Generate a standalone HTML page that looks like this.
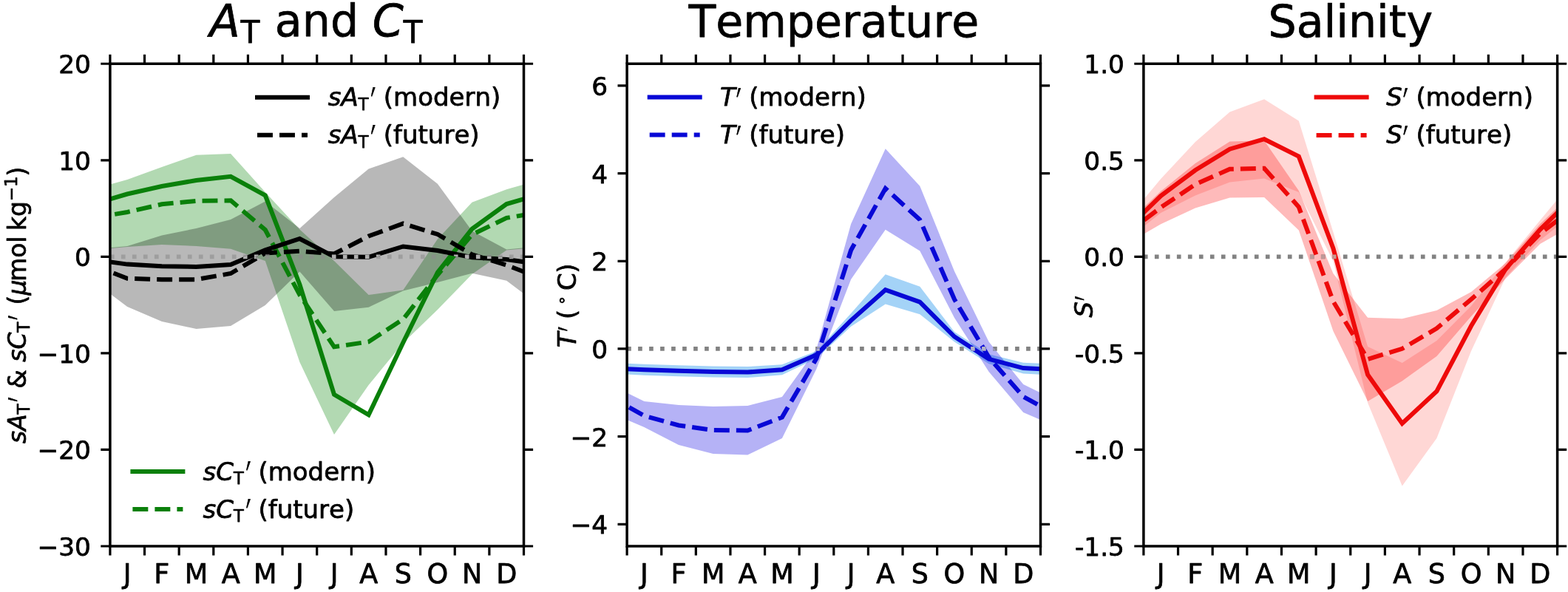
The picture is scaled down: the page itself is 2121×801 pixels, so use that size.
<!DOCTYPE html>
<html lang="en"><head><meta charset="utf-8"><title>Seasonal cycles</title>
<style>html,body{margin:0;padding:0;background:#fff}svg{display:block}</style></head>
<body>
<svg width="2121" height="801" viewBox="0 0 2121 801" font-family="'DejaVu Sans','Liberation Sans',sans-serif" fill="#000">
<style>text{stroke:#000;stroke-width:0.75px;stroke-linejoin:round;font-kerning:none}</style>
<rect width="2121" height="801" fill="#fff"/>
<defs>
<clipPath id="c0"><rect x="148.9" y="86.25" width="559.60" height="652.75"/></clipPath>
<clipPath id="c1"><rect x="848.1" y="86.25" width="559.40" height="652.75"/></clipPath>
<clipPath id="c2"><rect x="1546.9" y="86.25" width="559.70" height="652.75"/></clipPath>
</defs>
<mask id="mk" maskUnits="userSpaceOnUse" x="0" y="0" width="2121" height="801">
<path d="M125.6,351.0 L172.2,357.6 L218.9,360.3 L265.5,361.0 L312.1,358.0 L358.8,338.4 L405.4,323.0 L452.0,347.3 L498.6,347.8 L545.3,333.5 L591.9,339.0 L638.5,348.3 L685.2,351.0 L731.8,357.6" stroke="#fff" stroke-width="6.0" fill="none"/>
<path d="M125.6,358.6 L172.2,376.8 L218.9,378.2 L265.5,378.2 L312.1,370.0 L358.8,342.5 L405.4,339.7 L452.0,343.5 L498.6,319.5 L545.3,302.5 L591.9,317.0 L638.5,344.4 L685.2,358.6 L731.8,376.8" stroke="#fff" stroke-width="6.0" fill="none" stroke-dasharray="20.94 9.06"/>
</mask>
<g clip-path="url(#c0)">
<path d="M125.6,256.2 L172.2,243.0 L218.9,226.0 L265.5,209.8 L312.1,208.1 L358.8,260.0 L405.4,310.5 L452.0,353.0 L498.6,399.0 L545.3,392.4 L591.9,323.6 L638.5,273.7 L685.2,256.2 L731.8,243.0 L731.8,334.0 L685.2,338.5 L638.5,371.0 L591.9,419.0 L545.3,464.0 L498.6,521.1 L452.0,588.0 L405.4,490.0 L358.8,353.0 L312.1,336.7 L265.5,333.0 L218.9,331.0 L172.2,334.0 L125.6,338.5Z" fill="rgb(0,128,0)" fill-opacity="0.3"/>
<path d="M125.6,337.5 L172.2,333.0 L218.9,318.5 L265.5,309.0 L312.1,297.0 L358.8,272.4 L405.4,309.0 L452.0,267.0 L498.6,228.5 L545.3,212.3 L591.9,248.7 L638.5,312.4 L685.2,337.5 L731.8,333.0 L731.8,415.0 L685.2,379.8 L638.5,369.8 L591.9,382.0 L545.3,393.5 L498.6,415.7 L452.0,421.0 L405.4,367.5 L358.8,413.0 L312.1,441.0 L265.5,445.0 L218.9,435.0 L172.2,415.0 L125.6,379.8Z" fill="#000" fill-opacity="0.28"/>
<path d="M148.9,347.35 H708.5" stroke="#8c8c8c" stroke-width="5.7" stroke-dasharray="5.66 9.34" fill="none" stroke-opacity="0.6"/>
<path d="M125.6,276.0 L172.2,262.5 L218.9,252.0 L265.5,244.0 L312.1,238.8 L358.8,264.3 L405.4,385.0 L452.0,533.8 L498.6,561.3 L545.3,463.5 L591.9,368.6 L638.5,309.7 L685.2,276.0 L731.8,262.5" stroke="#0a800a" stroke-width="6.0" fill="none" stroke-linejoin="miter"/>
<path d="M125.6,294.9 L172.2,287.0 L218.9,276.3 L265.5,271.8 L312.1,271.3 L358.8,311.0 L405.4,399.0 L452.0,469.3 L498.6,462.4 L545.3,432.0 L591.9,372.0 L638.5,317.4 L685.2,294.9 L731.8,287.0" stroke="#0a800a" stroke-width="6.0" fill="none" stroke-dasharray="20.94 9.06" stroke-linejoin="miter"/>
<path d="M125.6,351.0 L172.2,357.6 L218.9,360.3 L265.5,361.0 L312.1,358.0 L358.8,338.4 L405.4,323.0 L452.0,347.3 L498.6,347.8 L545.3,333.5 L591.9,339.0 L638.5,348.3 L685.2,351.0 L731.8,357.6" stroke="#000" stroke-width="6.0" fill="none" stroke-linejoin="miter"/>
<path d="M125.6,358.6 L172.2,376.8 L218.9,378.2 L265.5,378.2 L312.1,370.0 L358.8,342.5 L405.4,339.7 L452.0,343.5 L498.6,319.5 L545.3,302.5 L591.9,317.0 L638.5,344.4 L685.2,358.6 L731.8,376.8" stroke="#000" stroke-width="6.0" fill="none" stroke-dasharray="20.94 9.06" stroke-linejoin="miter"/>
<g mask="url(#mk)"><path d="M148.9,347.35 H708.5" stroke="#b0b0b0" stroke-width="5.7" stroke-dasharray="5.66 9.34" fill="none"/></g>
</g>
<mask id="mk2" maskUnits="userSpaceOnUse" x="0" y="0" width="2121" height="801">
<path d="M824.8,498.1 L871.4,500.3 L918.0,501.7 L964.6,503.0 L1011.3,503.6 L1057.9,500.3 L1104.5,479.9 L1151.1,433.6 L1197.7,392.2 L1244.3,408.6 L1291.0,455.5 L1337.6,485.8 L1384.2,498.1 L1430.8,500.3" stroke="#fff" stroke-width="6.0" fill="none"/>
<path d="M824.8,536.6 L871.4,562.5 L918.0,575.5 L964.6,582.0 L1011.3,582.5 L1057.9,564.5 L1104.5,484.8 L1151.1,338.5 L1197.7,255.0 L1244.3,297.4 L1291.0,405.0 L1337.6,483.5 L1384.2,536.6 L1430.8,562.5" stroke="#fff" stroke-width="6.0" fill="none" stroke-dasharray="20.94 9.06"/>
</mask>
<clipPath id="cb2"><path d="M824.8,490.8 L871.4,492.8 L918.0,494.2 L964.6,495.5 L1011.3,496.1 L1057.9,493.3 L1104.5,474.9 L1151.1,424.0 L1197.7,371.3 L1244.3,387.8 L1291.0,449.0 L1337.6,479.3 L1384.2,490.8 L1430.8,492.8 L1430.8,507.8 L1384.2,505.4 L1337.6,492.3 L1291.0,462.4 L1244.3,425.3 L1197.7,411.6 L1151.1,441.8 L1104.5,484.9 L1057.9,507.3 L1011.3,511.1 L964.6,510.5 L918.0,509.2 L871.4,507.8 L824.8,505.4Z"/><path d="M824.8,520.0 L871.4,543.0 L918.0,548.0 L964.6,550.0 L1011.3,549.0 L1057.9,537.0 L1104.5,472.0 L1151.1,303.0 L1197.7,201.3 L1244.3,251.7 L1291.0,367.0 L1337.6,462.5 L1384.2,520.0 L1430.8,543.0 L1430.8,578.0 L1384.2,558.0 L1337.6,503.0 L1291.0,430.0 L1244.3,339.5 L1197.7,310.7 L1151.1,378.0 L1104.5,499.0 L1057.9,593.0 L1011.3,615.5 L964.6,614.0 L918.0,602.0 L871.4,578.0 L824.8,558.0Z"/></clipPath>
<g clip-path="url(#c1)">
<path d="M848.1,471.97 H1407.5" stroke="#828282" stroke-width="5.7" stroke-dasharray="5.66 9.34" fill="none"/>
<path d="M824.8,490.8 L871.4,492.8 L918.0,494.2 L964.6,495.5 L1011.3,496.1 L1057.9,493.3 L1104.5,474.9 L1151.1,424.0 L1197.7,371.3 L1244.3,387.8 L1291.0,449.0 L1337.6,479.3 L1384.2,490.8 L1430.8,492.8 L1430.8,507.8 L1384.2,505.4 L1337.6,492.3 L1291.0,462.4 L1244.3,425.3 L1197.7,411.6 L1151.1,441.8 L1104.5,484.9 L1057.9,507.3 L1011.3,511.1 L964.6,510.5 L918.0,509.2 L871.4,507.8 L824.8,505.4Z" fill="rgb(80,170,240)" fill-opacity="0.52"/>
<path d="M824.8,520.0 L871.4,543.0 L918.0,548.0 L964.6,550.0 L1011.3,549.0 L1057.9,537.0 L1104.5,472.0 L1151.1,303.0 L1197.7,201.3 L1244.3,251.7 L1291.0,367.0 L1337.6,462.5 L1384.2,520.0 L1430.8,543.0 L1430.8,578.0 L1384.2,558.0 L1337.6,503.0 L1291.0,430.0 L1244.3,339.5 L1197.7,310.7 L1151.1,378.0 L1104.5,499.0 L1057.9,593.0 L1011.3,615.5 L964.6,614.0 L918.0,602.0 L871.4,578.0 L824.8,558.0Z" fill="rgb(10,0,225)" fill-opacity="0.3"/>
<g clip-path="url(#cb2)"><path d="M848.1,471.97 H1407.5" stroke="#9d9cb4" stroke-width="5.7" stroke-dasharray="5.66 9.34" fill="none"/></g>
<path d="M824.8,498.1 L871.4,500.3 L918.0,501.7 L964.6,503.0 L1011.3,503.6 L1057.9,500.3 L1104.5,479.9 L1151.1,433.6 L1197.7,392.2 L1244.3,408.6 L1291.0,455.5 L1337.6,485.8 L1384.2,498.1 L1430.8,500.3" stroke="#0808d6" stroke-width="6.0" fill="none" stroke-linejoin="miter"/>
<path d="M824.8,536.6 L871.4,562.5 L918.0,575.5 L964.6,582.0 L1011.3,582.5 L1057.9,564.5 L1104.5,484.8 L1151.1,338.5 L1197.7,255.0 L1244.3,297.4 L1291.0,405.0 L1337.6,483.5 L1384.2,536.6 L1430.8,562.5" stroke="#0808d6" stroke-width="6.0" fill="none" stroke-dasharray="20.94 9.06" stroke-linejoin="miter"/>
<g mask="url(#mk2)"><path d="M848.1,471.97 H1407.5" stroke="#b4b4c6" stroke-width="5.7" stroke-dasharray="5.66 9.34" fill="none"/></g>
</g>
<mask id="mk3" maskUnits="userSpaceOnUse" x="0" y="0" width="2121" height="801">
<path d="M1523.6,310.5 L1570.2,265.0 L1616.9,230.3 L1663.5,201.7 L1710.1,188.2 L1756.8,211.6 L1803.4,336.0 L1850.1,507.0 L1896.7,573.0 L1943.4,529.4 L1990.0,441.0 L2036.6,364.0 L2083.3,310.5 L2129.9,265.0" stroke="#fff" stroke-width="6.0" fill="none"/>
<path d="M1523.6,316.0 L1570.2,280.7 L1616.9,249.4 L1663.5,228.8 L1710.1,227.8 L1756.8,280.0 L1803.4,407.8 L1850.1,486.0 L1896.7,471.8 L1943.4,444.3 L1990.0,405.0 L2036.6,364.0 L2083.3,316.0 L2129.9,280.7" stroke="#fff" stroke-width="6.0" fill="none" stroke-dasharray="20.94 9.06"/>
</mask>
<clipPath id="cb3"><path d="M1523.6,298.0 L1570.2,242.0 L1616.9,192.0 L1663.5,151.5 L1710.1,134.3 L1756.8,163.6 L1803.4,314.0 L1850.1,469.0 L1896.7,491.0 L1943.4,461.0 L1990.0,414.0 L2036.6,355.0 L2083.3,298.0 L2129.9,242.0 L2129.9,288.0 L2083.3,325.0 L2036.6,375.5 L1990.0,475.0 L1943.4,593.0 L1896.7,657.5 L1850.1,545.0 L1803.4,353.5 L1756.8,260.0 L1710.1,241.5 L1663.5,246.5 L1616.9,264.5 L1570.2,288.0 L1523.6,325.0Z"/><path d="M1523.6,303.0 L1570.2,258.8 L1616.9,221.0 L1663.5,191.6 L1710.1,190.2 L1756.8,258.0 L1803.4,370.0 L1850.1,429.8 L1896.7,431.3 L1943.4,420.0 L1990.0,395.0 L2036.6,356.0 L2083.3,303.0 L2129.9,258.8 L2129.9,303.3 L2083.3,330.0 L2036.6,377.0 L1990.0,428.0 L1943.4,482.0 L1896.7,515.4 L1850.1,543.0 L1803.4,448.0 L1756.8,311.5 L1710.1,267.0 L1663.5,267.4 L1616.9,281.4 L1570.2,303.3 L1523.6,330.0Z"/></clipPath>
<g clip-path="url(#c2)">
<path d="M1546.9,347.35 H2106.6" stroke="#828282" stroke-width="5.7" stroke-dasharray="5.66 9.34" fill="none"/>
<path d="M1523.6,298.0 L1570.2,242.0 L1616.9,192.0 L1663.5,151.5 L1710.1,134.3 L1756.8,163.6 L1803.4,314.0 L1850.1,469.0 L1896.7,491.0 L1943.4,461.0 L1990.0,414.0 L2036.6,355.0 L2083.3,298.0 L2129.9,242.0 L2129.9,288.0 L2083.3,325.0 L2036.6,375.5 L1990.0,475.0 L1943.4,593.0 L1896.7,657.5 L1850.1,545.0 L1803.4,353.5 L1756.8,260.0 L1710.1,241.5 L1663.5,246.5 L1616.9,264.5 L1570.2,288.0 L1523.6,325.0Z" fill="rgb(255,10,0)" fill-opacity="0.165"/>
<path d="M1523.6,303.0 L1570.2,258.8 L1616.9,221.0 L1663.5,191.6 L1710.1,190.2 L1756.8,258.0 L1803.4,370.0 L1850.1,429.8 L1896.7,431.3 L1943.4,420.0 L1990.0,395.0 L2036.6,356.0 L2083.3,303.0 L2129.9,258.8 L2129.9,303.3 L2083.3,330.0 L2036.6,377.0 L1990.0,428.0 L1943.4,482.0 L1896.7,515.4 L1850.1,543.0 L1803.4,448.0 L1756.8,311.5 L1710.1,267.0 L1663.5,267.4 L1616.9,281.4 L1570.2,303.3 L1523.6,330.0Z" fill="rgb(250,0,0)" fill-opacity="0.27"/>
<g clip-path="url(#cb3)"><path d="M1546.9,347.35 H2106.6" stroke="#bd9898" stroke-width="5.7" stroke-dasharray="5.66 9.34" fill="none"/></g>
<path d="M1523.6,310.5 L1570.2,265.0 L1616.9,230.3 L1663.5,201.7 L1710.1,188.2 L1756.8,211.6 L1803.4,336.0 L1850.1,507.0 L1896.7,573.0 L1943.4,529.4 L1990.0,441.0 L2036.6,364.0 L2083.3,310.5 L2129.9,265.0" stroke="#ee0a0a" stroke-width="6.0" fill="none" stroke-linejoin="miter"/>
<path d="M1523.6,316.0 L1570.2,280.7 L1616.9,249.4 L1663.5,228.8 L1710.1,227.8 L1756.8,280.0 L1803.4,407.8 L1850.1,486.0 L1896.7,471.8 L1943.4,444.3 L1990.0,405.0 L2036.6,364.0 L2083.3,316.0 L2129.9,280.7" stroke="#ee0a0a" stroke-width="6.0" fill="none" stroke-dasharray="20.94 9.06" stroke-linejoin="miter"/>
<g mask="url(#mk3)"><path d="M1546.9,347.35 H2106.6" stroke="#c89a90" stroke-width="5.7" stroke-dasharray="5.66 9.34" fill="none"/></g>
</g>
<path d="M148.90,739.0 v12.6 M148.90,86.25 v-12.6 M195.53,739.0 v12.6 M195.53,86.25 v-12.6 M242.17,739.0 v12.6 M242.17,86.25 v-12.6 M288.80,739.0 v12.6 M288.80,86.25 v-12.6 M335.43,739.0 v12.6 M335.43,86.25 v-12.6 M382.07,739.0 v12.6 M382.07,86.25 v-12.6 M428.70,739.0 v12.6 M428.70,86.25 v-12.6 M475.33,739.0 v12.6 M475.33,86.25 v-12.6 M521.97,739.0 v12.6 M521.97,86.25 v-12.6 M568.60,739.0 v12.6 M568.60,86.25 v-12.6 M615.23,739.0 v12.6 M615.23,86.25 v-12.6 M661.87,739.0 v12.6 M661.87,86.25 v-12.6 M708.50,739.0 v12.6 M708.50,86.25 v-12.6 M148.9,86.25 h-12.6 M708.5,86.25 h12.6 M148.9,216.80 h-12.6 M708.5,216.80 h12.6 M148.9,347.35 h-12.6 M708.5,347.35 h12.6 M148.9,477.90 h-12.6 M708.5,477.90 h12.6 M148.9,608.45 h-12.6 M708.5,608.45 h12.6 M148.9,739.00 h-12.6 M708.5,739.00 h12.6" stroke="#000" stroke-width="3.2" fill="none"/>
<rect x="148.9" y="86.25" width="559.60" height="652.75" fill="none" stroke="#000" stroke-width="3.5"/>
<g font-size="36.5" text-anchor="middle">
<text x="172.22" y="789.1">J</text>
<text x="218.85" y="789.1">F</text>
<text x="265.48" y="789.1">M</text>
<text x="312.12" y="789.1">A</text>
<text x="358.75" y="789.1">M</text>
<text x="405.38" y="789.1">J</text>
<text x="452.02" y="789.1">J</text>
<text x="498.65" y="789.1">A</text>
<text x="545.28" y="789.1">S</text>
<text x="591.92" y="789.1">O</text>
<text x="638.55" y="789.1">N</text>
<text x="685.18" y="789.1">D</text>
</g>
<g font-size="34.3" text-anchor="end">
<text x="122.90" y="99.25">20</text>
<text x="122.90" y="229.80">10</text>
<text x="122.90" y="360.35">0</text>
<text x="122.90" y="490.90">−10</text>
<text x="122.90" y="621.45">−20</text>
<text x="122.90" y="752.00">−30</text>
</g>
<path d="M848.10,739.0 v12.6 M848.10,86.25 v-12.6 M894.72,739.0 v12.6 M894.72,86.25 v-12.6 M941.33,739.0 v12.6 M941.33,86.25 v-12.6 M987.95,739.0 v12.6 M987.95,86.25 v-12.6 M1034.57,739.0 v12.6 M1034.57,86.25 v-12.6 M1081.18,739.0 v12.6 M1081.18,86.25 v-12.6 M1127.80,739.0 v12.6 M1127.80,86.25 v-12.6 M1174.42,739.0 v12.6 M1174.42,86.25 v-12.6 M1221.03,739.0 v12.6 M1221.03,86.25 v-12.6 M1267.65,739.0 v12.6 M1267.65,86.25 v-12.6 M1314.27,739.0 v12.6 M1314.27,86.25 v-12.6 M1360.88,739.0 v12.6 M1360.88,86.25 v-12.6 M1407.50,739.0 v12.6 M1407.50,86.25 v-12.6 M848.1,115.92 h-12.6 M1407.5,115.92 h12.6 M848.1,234.60 h-12.6 M1407.5,234.60 h12.6 M848.1,353.28 h-12.6 M1407.5,353.28 h12.6 M848.1,471.97 h-12.6 M1407.5,471.97 h12.6 M848.1,590.65 h-12.6 M1407.5,590.65 h12.6 M848.1,709.33 h-12.6 M1407.5,709.33 h12.6" stroke="#000" stroke-width="3.2" fill="none"/>
<rect x="848.1" y="86.25" width="559.40" height="652.75" fill="none" stroke="#000" stroke-width="3.5"/>
<g font-size="36.5" text-anchor="middle">
<text x="871.41" y="789.1">J</text>
<text x="918.02" y="789.1">F</text>
<text x="964.64" y="789.1">M</text>
<text x="1011.26" y="789.1">A</text>
<text x="1057.88" y="789.1">M</text>
<text x="1104.49" y="789.1">J</text>
<text x="1151.11" y="789.1">J</text>
<text x="1197.72" y="789.1">A</text>
<text x="1244.34" y="789.1">S</text>
<text x="1290.96" y="789.1">O</text>
<text x="1337.58" y="789.1">N</text>
<text x="1384.19" y="789.1">D</text>
</g>
<g font-size="34.3" text-anchor="end">
<text x="822.10" y="128.92">6</text>
<text x="822.10" y="247.60">4</text>
<text x="822.10" y="366.28">2</text>
<text x="822.10" y="484.97">0</text>
<text x="822.10" y="603.65">−2</text>
<text x="822.10" y="722.33">−4</text>
</g>
<path d="M1546.90,739.0 v12.6 M1546.90,86.25 v-12.6 M1593.54,739.0 v12.6 M1593.54,86.25 v-12.6 M1640.18,739.0 v12.6 M1640.18,86.25 v-12.6 M1686.83,739.0 v12.6 M1686.83,86.25 v-12.6 M1733.47,739.0 v12.6 M1733.47,86.25 v-12.6 M1780.11,739.0 v12.6 M1780.11,86.25 v-12.6 M1826.75,739.0 v12.6 M1826.75,86.25 v-12.6 M1873.39,739.0 v12.6 M1873.39,86.25 v-12.6 M1920.03,739.0 v12.6 M1920.03,86.25 v-12.6 M1966.67,739.0 v12.6 M1966.67,86.25 v-12.6 M2013.32,739.0 v12.6 M2013.32,86.25 v-12.6 M2059.96,739.0 v12.6 M2059.96,86.25 v-12.6 M2106.60,739.0 v12.6 M2106.60,86.25 v-12.6 M1546.9,86.25 h-12.6 M2106.6,86.25 h12.6 M1546.9,216.80 h-12.6 M2106.6,216.80 h12.6 M1546.9,347.35 h-12.6 M2106.6,347.35 h12.6 M1546.9,477.90 h-12.6 M2106.6,477.90 h12.6 M1546.9,608.45 h-12.6 M2106.6,608.45 h12.6 M1546.9,739.00 h-12.6 M2106.6,739.00 h12.6" stroke="#000" stroke-width="3.2" fill="none"/>
<rect x="1546.9" y="86.25" width="559.70" height="652.75" fill="none" stroke="#000" stroke-width="3.5"/>
<g font-size="36.5" text-anchor="middle">
<text x="1570.22" y="789.1">J</text>
<text x="1616.86" y="789.1">F</text>
<text x="1663.50" y="789.1">M</text>
<text x="1710.15" y="789.1">A</text>
<text x="1756.79" y="789.1">M</text>
<text x="1803.43" y="789.1">J</text>
<text x="1850.07" y="789.1">J</text>
<text x="1896.71" y="789.1">A</text>
<text x="1943.35" y="789.1">S</text>
<text x="1990.00" y="789.1">O</text>
<text x="2036.64" y="789.1">N</text>
<text x="2083.28" y="789.1">D</text>
</g>
<g font-size="34.3" text-anchor="end">
<text x="1520.90" y="99.25">1.0</text>
<text x="1520.90" y="229.80">0.5</text>
<text x="1520.90" y="360.35">0.0</text>
<text x="1520.90" y="490.90">-0.5</text>
<text x="1520.90" y="621.45">-1.0</text>
<text x="1520.90" y="752.00">-1.5</text>
</g>
<text font-size="60.2" xml:space="preserve"><tspan x="283.61" y="48.50" font-style="italic">A</tspan><tspan x="325.59" y="58.10" font-size="42.14">T</tspan><tspan x="352.73" y="48.50"> and </tspan><tspan x="503.63" y="48.50" font-style="italic">C</tspan><tspan x="545.66" y="58.10" font-size="42.14">T</tspan></text>
<text font-size="60.2" xml:space="preserve"><tspan x="931.39" y="50.20">Temperature</tspan></text>
<text font-size="60.2" xml:space="preserve"><tspan x="1715.44" y="50.20">Salinity</tspan></text>
<path d="M348.0,131.8 h68.0" stroke="#000" stroke-width="6.0" stroke-linecap="square" fill="none"/>
<text font-size="34.0" xml:space="preserve"><tspan x="443.80" y="143.40" font-style="italic">sA</tspan><tspan x="484.78" y="149.20" font-size="22.44">T</tspan></text>
<text transform="translate(501.40,164.50) scale(0.85,1.9)" font-size="34.00" style="stroke-width:0.45px" xml:space="preserve">′</text>
<text font-size="34.0" xml:space="preserve"><tspan x="507.94" y="143.40"> (modern)</tspan></text>
<path d="M348.0,182.8 h68.0" stroke="#000" stroke-width="6.0" stroke-dasharray="20.94 9.06" fill="none"/>
<text font-size="34.0" xml:space="preserve"><tspan x="443.80" y="194.40" font-style="italic">sA</tspan><tspan x="484.78" y="200.20" font-size="22.44">T</tspan></text>
<text transform="translate(501.40,215.50) scale(0.85,1.9)" font-size="34.00" style="stroke-width:0.45px" xml:space="preserve">′</text>
<text font-size="34.0" xml:space="preserve"><tspan x="507.94" y="194.40"> (future)</tspan></text>
<path d="M179.4,638.0 h68.0" stroke="#0a800a" stroke-width="6.0" stroke-linecap="square" fill="none"/>
<text font-size="34.0" xml:space="preserve"><tspan x="274.60" y="649.60" font-style="italic">sC</tspan><tspan x="316.07" y="655.40" font-size="22.44">T</tspan></text>
<text transform="translate(332.69,670.70) scale(0.85,1.9)" font-size="34.00" style="stroke-width:0.45px" xml:space="preserve">′</text>
<text font-size="34.0" xml:space="preserve"><tspan x="338.62" y="649.60"> (modern)</tspan></text>
<path d="M179.4,689.0 h68.0" stroke="#0a800a" stroke-width="6.0" stroke-dasharray="20.94 9.06" fill="none"/>
<text font-size="34.0" xml:space="preserve"><tspan x="274.60" y="700.60" font-style="italic">sC</tspan><tspan x="316.07" y="706.40" font-size="22.44">T</tspan></text>
<text transform="translate(332.69,721.70) scale(0.85,1.9)" font-size="34.00" style="stroke-width:0.45px" xml:space="preserve">′</text>
<text font-size="34.0" xml:space="preserve"><tspan x="338.62" y="700.60"> (future)</tspan></text>
<path d="M878.7,131.6 h68.0" stroke="#0808d6" stroke-width="6.0" stroke-linecap="square" fill="none"/>
<text font-size="34.0" xml:space="preserve"><tspan x="973.90" y="143.20" font-style="italic">T</tspan></text>
<text transform="translate(995.88,166.20) scale(0.85,1.9)" font-size="34.00" style="stroke-width:0.45px" xml:space="preserve">′</text>
<text font-size="34.0" xml:space="preserve"><tspan x="1002.42" y="143.20"> (modern)</tspan></text>
<path d="M878.7,182.6 h68.0" stroke="#0808d6" stroke-width="6.0" stroke-dasharray="20.94 9.06" fill="none"/>
<text font-size="34.0" xml:space="preserve"><tspan x="973.90" y="194.20" font-style="italic">T</tspan></text>
<text transform="translate(995.88,217.20) scale(0.85,1.9)" font-size="34.00" style="stroke-width:0.45px" xml:space="preserve">′</text>
<text font-size="34.0" xml:space="preserve"><tspan x="1002.42" y="194.20"> (future)</tspan></text>
<path d="M1780.6,131.6 h68.0" stroke="#ee0a0a" stroke-width="6.0" stroke-linecap="square" fill="none"/>
<text font-size="34.0" xml:space="preserve"><tspan x="1875.30" y="143.20" font-style="italic">S</tspan></text>
<text transform="translate(1898.09,166.20) scale(0.85,1.9)" font-size="34.00" style="stroke-width:0.45px" xml:space="preserve">′</text>
<text font-size="34.0" xml:space="preserve"><tspan x="1904.63" y="143.20"> (modern)</tspan></text>
<path d="M1780.6,183.0 h68.0" stroke="#ee0a0a" stroke-width="6.0" stroke-dasharray="20.94 9.06" fill="none"/>
<text font-size="34.0" xml:space="preserve"><tspan x="1875.30" y="194.20" font-style="italic">S</tspan></text>
<text transform="translate(1898.09,217.20) scale(0.85,1.9)" font-size="34.00" style="stroke-width:0.45px" xml:space="preserve">′</text>
<text font-size="34.0" xml:space="preserve"><tspan x="1904.63" y="194.20"> (future)</tspan></text>
<g transform="translate(34.80,412.80) rotate(-90)">
<text font-size="32.8" xml:space="preserve"><tspan x="-187.17" y="0.00" font-style="italic">sA</tspan><tspan x="-147.64" y="5.30" font-size="22.96">T</tspan></text>
<text transform="translate(-130.65,22.19) scale(0.85,1.9)" font-size="32.80" style="stroke-width:0.45px" xml:space="preserve">′</text>
<text font-size="32.8" xml:space="preserve"><tspan x="-123.35" y="0.00"> &amp; </tspan><tspan x="-76.92" y="0.00" font-style="italic">sC</tspan><tspan x="-36.92" y="5.30" font-size="22.96">T</tspan></text>
<text transform="translate(-19.93,22.19) scale(0.85,1.9)" font-size="32.80" style="stroke-width:0.45px" xml:space="preserve">′</text>
<text font-size="32.8" xml:space="preserve"><tspan x="-10.03" y="0.00"> (</tspan><tspan x="13.20" y="0.00" font-style="italic">μ</tspan><tspan x="32.08" y="0.00">mol</tspan><tspan x="94.15" y="0.00"> kg</tspan><tspan x="140.53" y="-12.20" font-size="22.96">−1</tspan><tspan x="174.37" y="0.00">)</tspan></text>
</g>
<g transform="translate(779.20,470.20) rotate(-90)">
<text font-size="34.0" xml:space="preserve"><tspan x="0.00" y="0.00" font-style="italic">T</tspan></text>
<text transform="translate(21.98,23.00) scale(0.85,1.9)" font-size="34.00" style="stroke-width:0.45px" xml:space="preserve">′</text>
<text font-size="34.0" xml:space="preserve"><tspan x="27.32" y="0.00"> (</tspan><tspan x="57.29" y="-12.50" font-size="21.08">∘</tspan><tspan x="77.30" y="0.00">C</tspan><tspan x="100.45" y="0.00">)</tspan></text>
</g>
<g transform="translate(1478.30,414.80) rotate(-90)">
<text font-size="34.0" xml:space="preserve"><tspan x="-14.66" y="0.00" font-style="italic">S</tspan></text>
<text transform="translate(8.13,23.00) scale(0.85,1.9)" font-size="34.00" style="stroke-width:0.45px" xml:space="preserve">′</text>
</g>
</svg>
</body></html>
